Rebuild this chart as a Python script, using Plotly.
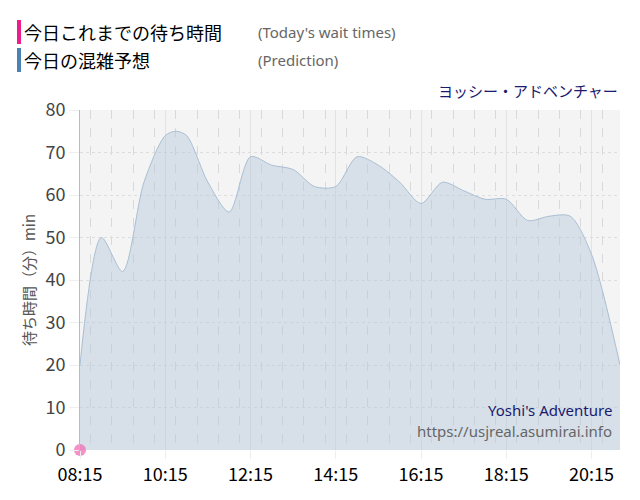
import plotly.graph_objects as go

# prediction (15-30 min steps)
times = ["08:15", "08:45", "09:15", "09:45", "10:15", "10:30", "10:45", "11:15", "11:45",
         "12:15", "12:45", "13:15", "13:45", "14:15", "14:45", "15:15", "15:45", "16:15",
         "16:45", "17:15", "17:45", "18:15", "18:45", "19:15", "19:45", "20:15", "20:55"]
pred = [20, 50, 42, 63, 74, 75, 74, 63, 56,
        69, 67, 66, 62, 62, 69, 67, 63, 58,
        63, 61, 59, 59, 54, 55, 55, 46, 20]
actual_times = ["08:15"]
actual = [0]

day = "2024-01-01 "
x = [day + t for t in times]

fig = go.Figure()
fig.add_trace(go.Scatter(
    x=x, y=pred, mode="lines", line=dict(color="#a9bfd3", width=1, shape="spline", smoothing=0.8),
    fill="tozeroy", fillcolor="rgba(180,200,220,0.45)", hoverinfo="skip", showlegend=False))
fig.add_trace(go.Scatter(
    x=[day + t for t in actual_times], y=actual, mode="markers",
    marker=dict(color="rgba(240,110,180,0.75)", size=12), cliponaxis=False, showlegend=False))

font = "Noto Sans CJK JP"
fig.update_layout(
    width=640, height=500, margin=dict(l=72, r=28, t=102, b=58, autoexpand=False),
    paper_bgcolor="white", plot_bgcolor="#f4f4f4",
    font=dict(family=font, color="#444"),
    xaxis=dict(type="date", range=[day + "08:15", day + "20:55"], automargin=False,
               tick0=day + "08:15", dtick=2 * 3600 * 1000, tickformat="%H:%M",
               tickfont=dict(size=18, color="black"), ticks="outside", ticklen=8, tickcolor="#eeeeee",
               showgrid=True, gridcolor="#e2e2e2", zeroline=False,
               minor=dict(dtick=30 * 60 * 1000, showgrid=True, gridcolor="#d9d9d9", griddash="dash")),
    yaxis=dict(range=[0, 80], dtick=10, tickfont=dict(size=18, color="#444"), automargin=False,
               ticks="outside", ticklen=10, tickcolor="#eeeeee",
               showgrid=True, gridcolor="#dddddd", griddash="dot", zeroline=False,
               showline=True, linecolor="#bbbbbb",
               title=dict(text="待ち時間（分）min", font=dict(size=15, color="#555"), standoff=6)),
)

# legend-like labels
for yy, color, jp, en in [(32, "#ee1c8c", "今日これまでの待ち時間", "(Today's wait times)"),
                          (60, "#4a82b4", "今日の混雑予想", "(Prediction)")]:
    fig.add_shape(type="rect", xref="paper", yref="paper",
                  x0=(17 - 80) / 540, x1=(21 - 80) / 540,
                  y0=(450 - (yy + 12)) / 340, y1=(450 - (yy - 12)) / 340,
                  fillcolor=color, line_width=0)
    fig.add_annotation(xref="paper", yref="paper", x=(22 - 80) / 540, y=(450 - yy) / 340,
                       text=jp, showarrow=False, xanchor="left", yanchor="middle",
                       font=dict(size=18, color="black", family=font))
    fig.add_annotation(xref="paper", yref="paper", x=(256 - 80) / 540, y=(450 - yy) / 340,
                       text=en, showarrow=False, xanchor="left", yanchor="middle",
                       font=dict(size=15, color="#666", family="Noto Sans"))

fig.add_annotation(xref="paper", yref="paper", x=1, y=(450 - 90) / 340, text="ヨッシー・アドベンチャー",
                   showarrow=False, xanchor="right", yanchor="middle",
                   font=dict(size=15, color="#1a1a6e", family=font))
fig.add_annotation(xref="paper", yref="paper", x=(614 - 80) / 540, y=(450 - 410) / 340,
                   text="Yoshi's Adventure", showarrow=False, xanchor="right", yanchor="middle",
                   font=dict(size=15, color="#1a1a6e", family="Noto Sans"))
fig.add_annotation(xref="paper", yref="paper", x=(614 - 80) / 540, y=(450 - 431) / 340,
                   text="https://usjreal.asumirai.info", showarrow=False, xanchor="right", yanchor="middle",
                   font=dict(size=15, color="#666", family="Noto Sans"))

fig.write_html("out.html")
